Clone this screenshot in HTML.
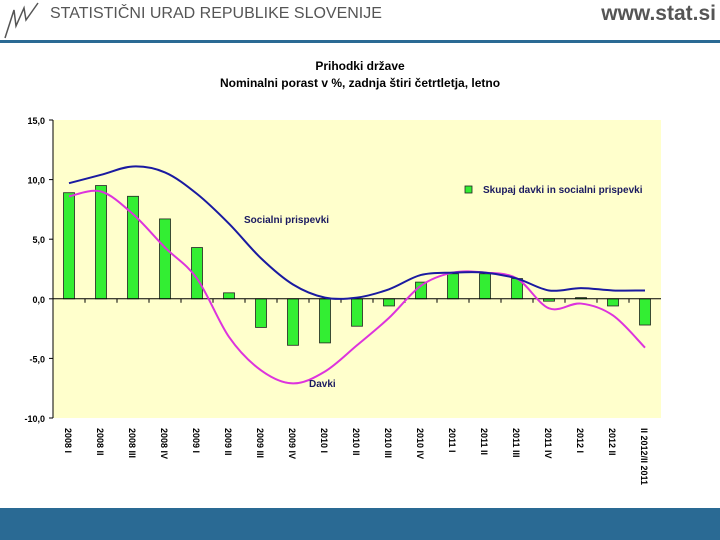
<!DOCTYPE html>
<html><head><meta charset="utf-8"><style>
body{margin:0;width:720px;height:540px;background:#fff;overflow:hidden;font-family:"Liberation Sans",sans-serif;position:relative}
</style></head><body>
<div style="position:absolute;left:0;top:0;width:720px;height:45px">
<svg width="40" height="40" style="position:absolute;left:2px;top:0"><path d="M3 38 L12 10 L14 26 L22 8 L24 20 L36 3" stroke="#555" stroke-width="1.5" fill="none"/></svg>
<div style="position:absolute;left:50px;top:5px;font-size:16px;color:#555">STATISTIČNI URAD REPUBLIKE SLOVENIJE</div>
<div style="position:absolute;right:4px;top:2px;font-size:21px;font-weight:bold;color:#555">www.stat.si</div>
<div style="position:absolute;left:0;top:40px;width:720px;height:3px;background:#2a6a94"></div>
</div>
<div style="position:absolute;left:0;top:508px;width:720px;height:32px;background:#2a6a94"></div>
<svg id="c" width="720" height="540" style="position:absolute;left:0;top:0"></svg>
<script>
const categories=["2008 I","2008 II","2008 III","2008 IV","2009 I","2009 II","2009 III","2009 IV","2010 I","2010 II","2010 III","2010 IV","2011 I","2011 II","2011 III","2011 IV","2012 I","2012 II","II 2012/II 2011"];
const totalValues=[8.9,9.5,8.6,6.7,4.3,0.5,-2.4,-3.9,-3.7,-2.3,-0.6,1.4,2.1,2.1,1.7,-0.2,0.1,-0.6,-2.2];
const socialValues=[9.7,10.4,11.1,10.6,8.8,6.3,3.4,1.2,0.1,0.1,0.8,2.0,2.2,2.2,1.7,0.7,0.9,0.7,0.7];
const taxValues=[8.6,9.0,7.1,4.3,1.7,-3.2,-6.0,-7.1,-6.1,-3.9,-1.6,1.1,2.2,2.2,1.7,-0.8,-0.4,-1.4,-4.1];
const yTicks=[15,10,5,0,-5,-10];
const yTickLabels=["15,0","10,0","5,0","0,0","-5,0","-10,0"];
const svg=document.getElementById('c');const NS="http://www.w3.org/2000/svg";
const L=53,R=661,T=120,B=418,yMin=-10,yMax=15;
const bw=(R-L)/categories.length;
const x=i=>L+bw*(i+0.5);
const y=v=>B-(v-yMin)/(yMax-yMin)*(B-T);
function mk(t,a,p){const e=document.createElementNS(NS,t);for(const k in a)e.setAttribute(k,a[k]);(p||svg).appendChild(e);return e;}
const bg=mk('rect',{x:L,y:T,width:R-L,height:B-T,fill:'#ffffcc'});


function txt(s,a,name){const e=mk('text',a);e.textContent=s;return e;}
txt("Prihodki države",{x:360,y:70,'text-anchor':'middle','font-size':12,'font-weight':'bold',fill:'#000'},'chart-title');
txt("Nominalni porast v %, zadnja štiri četrtletja, letno",{x:360,y:87,'text-anchor':'middle','font-size':12,'font-weight':'bold',fill:'#000'},'chart-subtitle');
mk('line',{x1:L,y1:T,x2:L,y2:B,stroke:'#000'});
yTicks.forEach((t,i)=>{mk('line',{x1:L-4,y1:y(t),x2:L,y2:y(t),stroke:'#000'});txt(yTickLabels[i],{x:L-8,y:y(t)+4,'text-anchor':'end','font-size':9,'font-weight':'bold'},'y-tick-label');});
totalValues.forEach((v,i)=>{const r=mk('rect',{x:x(i)-5.5,y:Math.min(y(v),y(0)),width:11,height:Math.abs(y(v)-y(0)),fill:'#33ee33',stroke:'#222','stroke-width':0.8});

});
mk('line',{x1:L,y1:y(0),x2:R,y2:y(0),stroke:'#000'});
categories.forEach((c,i)=>{mk('line',{x1:L+bw*i,y1:y(0),x2:L+bw*i,y2:y(0)+4,stroke:'#000'});
txt(c,{x:0,y:0,transform:`translate(${x(i)-4},${B+10}) rotate(90)`,'font-size':9,'font-weight':'bold'},'x-tick-label');});
function path(vals,color,name){let d='';const p=vals.map((v,i)=>[x(i),y(v)]);d='M'+p[0];for(let i=0;i<p.length-1;i++){const p0=p[i-1]||p[i],p1=p[i],p2=p[i+1],p3=p[i+2]||p2;const k=6;d+=` C${p1[0]+(p2[0]-p0[0])/k},${p1[1]+(p2[1]-p0[1])/k} ${p2[0]-(p3[0]-p1[0])/k},${p2[1]-(p3[1]-p1[1])/k} ${p2[0]},${p2[1]}`;}
const e=mk('path',{d:d,fill:'none',stroke:color,'stroke-width':2});

}
path(taxValues,'#dd33dd','tax-line');
path(socialValues,'#1a1aa0','social-line');
txt("Socialni prispevki",{x:244,y:223,'font-size':10,'font-weight':'bold',fill:'#1a1a60'},'social-line-label');
txt("Davki",{x:309,y:387,'font-size':10,'font-weight':'bold',fill:'#1a1a60'},'tax-line-label');
const lg=mk('rect',{x:465,y:186,width:7,height:7,fill:'#33ee33',stroke:'#222','stroke-width':0.8});


txt("Skupaj davki in socialni prispevki",{x:483,y:193,'font-size':10,'font-weight':'bold',fill:'#1a1a60'},'legend-label');
</script>
</body></html>
